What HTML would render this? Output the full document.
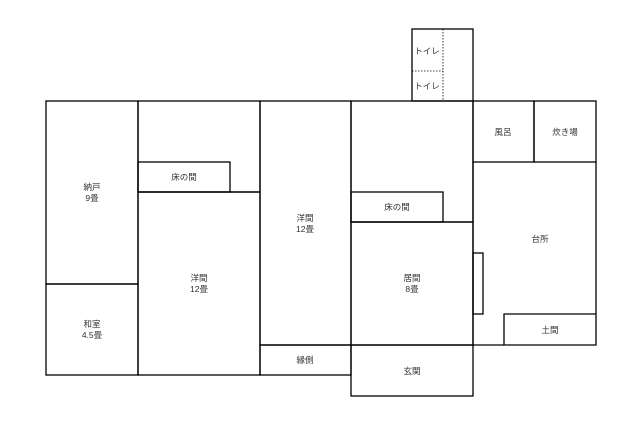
<!DOCTYPE html>
<html><head><meta charset="utf-8"><style>html,body{margin:0;padding:0;background:#fff}</style></head><body>
<svg width="640" height="426" viewBox="0 0 640 426" xmlns="http://www.w3.org/2000/svg" style="display:block">
<g fill="none" stroke="#000" stroke-width="1.3">
<rect x="46" y="101" width="92" height="183"/>
<rect x="46" y="284" width="92" height="91"/>
<rect x="138" y="101" width="122" height="91"/>
<rect x="138" y="162" width="92" height="30"/>
<rect x="138" y="192" width="122" height="183"/>
<rect x="260" y="101" width="91" height="244"/>
<rect x="260" y="345" width="91" height="30"/>
<rect x="351" y="101" width="122" height="121"/>
<rect x="351" y="192" width="92" height="30"/>
<rect x="351" y="222" width="122" height="123"/>
<rect x="351" y="345" width="122" height="51"/>
<rect x="412" y="29" width="61" height="72"/>
<rect x="473" y="101" width="61" height="61"/>
<rect x="534" y="101" width="62" height="61"/>
<polyline points="473,162 473,345 504,345"/>
<polyline points="596,162 596,345 504,345 504,314 596,314"/>
<rect x="473" y="253" width="10" height="61"/>
</g>
<g stroke="#000" stroke-width="0.8" stroke-dasharray="1.5,1.5" fill="none">
<line x1="443" y1="29" x2="443" y2="101"/>
<line x1="412" y1="71" x2="443" y2="71"/>
</g>
<g font-family="'Liberation Sans','Noto Sans CJK JP',sans-serif" font-size="8.5" fill="#333" text-anchor="middle">
<text x="92" y="190">納戸</text><text x="92" y="201">9畳</text>
<text x="92" y="327">和室</text><text x="92" y="338">4.5畳</text>
<text x="184" y="180">床の間</text>
<text x="199" y="281">洋間</text><text x="199" y="292">12畳</text>
<text x="305" y="221">洋間</text><text x="305" y="232">12畳</text>
<text x="305" y="363">縁側</text>
<text x="397" y="210">床の間</text>
<text x="412" y="281">居間</text><text x="412" y="292">8畳</text>
<text x="412" y="374">玄関</text>
<text x="427" y="54">トイレ</text>
<text x="427" y="89">トイレ</text>
<text x="503" y="135">風呂</text>
<text x="565" y="135">炊き場</text>
<text x="540" y="242">台所</text>
<text x="550" y="333">土間</text>
</g>
</svg>
</body></html>
